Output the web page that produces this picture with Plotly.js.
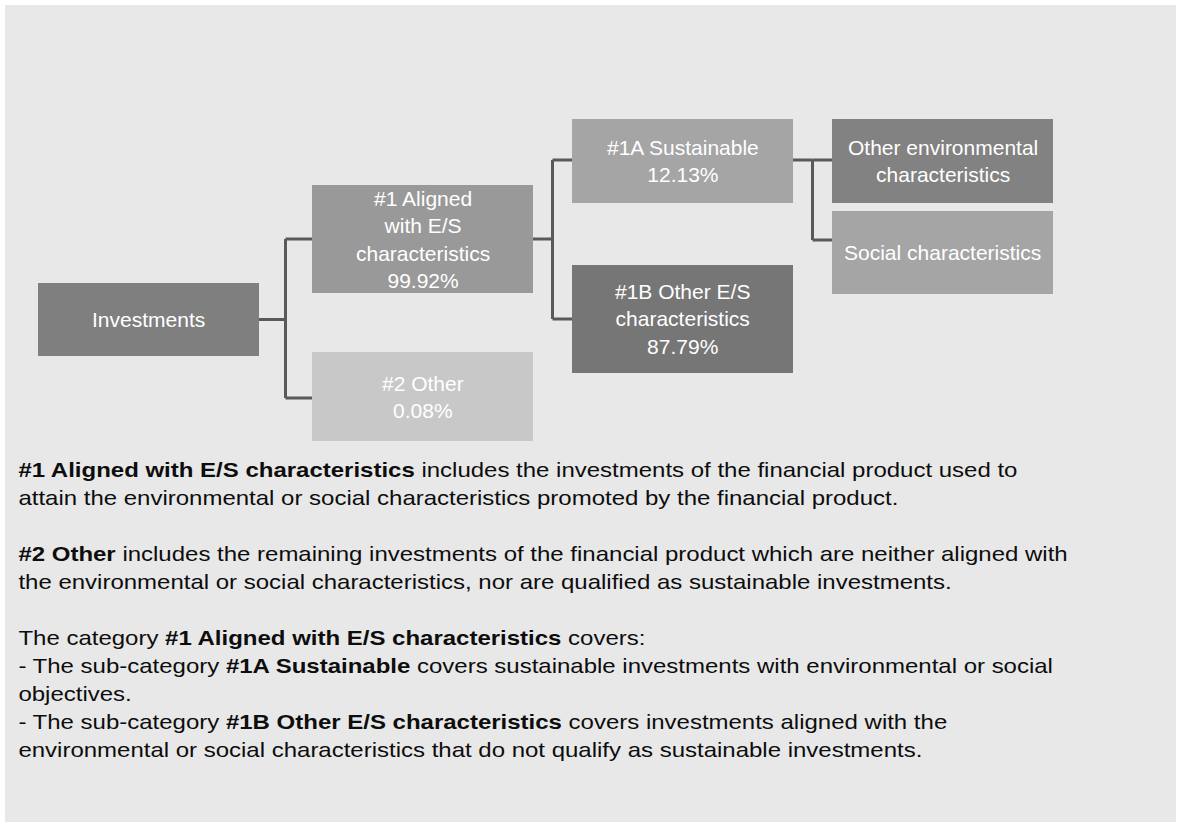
<!DOCTYPE html>
<html>
<head>
<meta charset="utf-8">
<script src="https://cdn.plot.ly/plotly-3.0.1.min.js"></script>
<style>
  html, body { margin: 0; padding: 0; background: #ffffff; }
  #chart { width: 1181px; height: 827px; }
</style>
</head>
<body>
<div id="chart"></div>
<script>
// ---- Data ----
const nodeLabels = [
  'Investments',
  '#1 Aligned<br>with E/S<br>characteristics',
  '#2 Other',
  '#1A Sustainable',
  '#1B Other E/S<br>characteristics',
  'Other environmental<br>characteristics',
  'Social characteristics'
];
const nodeShares = [null, 99.92, 0.08, 12.13, 87.79, null, null];
const nodeParents = [-1, 0, 0, 1, 1, 3, 3];

const noteLines = [
  '<b>#1 Aligned with E/S characteristics</b> includes the investments of the financial product used to',
  'attain the environmental or social characteristics promoted by the financial product.',
  '<b>#2 Other</b> includes the remaining investments of the financial product which are neither aligned with',
  'the environmental or social characteristics, nor are qualified as sustainable investments.',
  'The category <b>#1 Aligned with E/S characteristics</b> covers:',
  '- The sub-category <b>#1A Sustainable</b> covers sustainable investments with environmental or social',
  'objectives.',
  '- The sub-category <b>#1B Other E/S characteristics</b> covers investments aligned with the',
  'environmental or social characteristics that do not qualify as sustainable investments.'
];

// ---- Layout geometry (diagram placement, in page units) ----
const boxX0 = [38, 312, 312, 572, 572, 832, 832];
const boxX1 = [259, 533, 533, 793, 793, 1053, 1053];
const boxY0 = [283, 185, 352, 119, 265, 119, 211];
const boxY1 = [356, 293, 441, 203, 373, 203, 294];
const linkY = [319.5, 239, 398, 160, 319, 160, 240];
const noteLineY = [470, 498, 554, 582, 638, 666, 694, 722, 750];
const noteLeft = 16;

// ---- Styles ----
const boxColors = ['#7f7f7f', '#999999', '#c8c8c8', '#a5a5a5', '#767676', '#828282', '#a5a5a5'];
const lineColor = '#595959';
const bgColor = '#e8e8e8';
const fontFam = 'Liberation Sans, Arial, Helvetica, sans-serif';
const noteFontSize = 20;
const noteStretchX = 1.2;

// ---- Build connectors ----
const traces = [];
const parentsUsed = [...new Set(nodeParents.filter(p => p >= 0))];
parentsUsed.forEach(p => {
  const kids = nodeParents.map((q, i) => q === p ? i : -1).filter(i => i >= 0);
  const bus = (boxX1[p] + boxX0[kids[0]]) / 2;
  const outY = linkY[p];
  const ys = kids.map(k => linkY[k]).concat([outY]);
  const xs = [boxX1[p], bus, null, bus, bus, null];
  const yv = [outY, outY, null, Math.min(...ys), Math.max(...ys), null];
  kids.forEach(k => {
    xs.push(bus, boxX0[k], null);
    yv.push(linkY[k], linkY[k], null);
  });
  traces.push({
    type: 'scatter', mode: 'lines', x: xs, y: yv,
    line: { color: lineColor, width: 3 },
    hoverinfo: 'skip', showlegend: false, connectgaps: false
  });
});

// ---- Shapes: background + boxes ----
const shapes = [{
  type: 'rect', xref: 'paper', yref: 'paper', x0: 5 / 1181, x1: 1176 / 1181, y0: 5 / 827, y1: 822 / 827,
  fillcolor: bgColor, line: { width: 0 }, layer: 'below'
}];
nodeLabels.forEach((lab, i) => {
  shapes.push({
    type: 'rect', xref: 'x', yref: 'y',
    x0: boxX0[i], x1: boxX1[i], y0: boxY0[i], y1: boxY1[i],
    fillcolor: boxColors[i], line: { width: 0 }, layer: 'above'
  });
});

// ---- Annotations: box labels + notes ----
const annotations = nodeLabels.map((lab, i) => ({
  xref: 'x', yref: 'y',
  x: (boxX0[i] + boxX1[i]) / 2, y: (boxY0[i] + boxY1[i]) / 2,
  text: lab + (nodeShares[i] !== null ? '<br>' + nodeShares[i].toFixed(2) + '%' : ''),
  showarrow: false, xanchor: 'center', yanchor: 'middle', align: 'center',
  font: { family: fontFam, size: 21, color: '#ffffff' }
}));
noteLines.forEach((t, i) => {
  annotations.push({
    xref: 'x', yref: 'y', x: noteLeft, y: noteLineY[i],
    text: t, showarrow: false, xanchor: 'left', yanchor: 'middle', align: 'left',
    font: { family: fontFam, size: noteFontSize, color: '#0d0d0d' }
  });
});

const layout = {
  width: 1181, height: 827,
  margin: { l: 0, r: 0, t: 0, b: 0 },
  paper_bgcolor: '#ffffff', plot_bgcolor: 'rgba(0,0,0,0)',
  xaxis: { range: [0, 1181], visible: false, fixedrange: true },
  yaxis: { range: [827, 0], visible: false, fixedrange: true },
  shapes: shapes,
  annotations: annotations,
  showlegend: false
};

Plotly.newPlot('chart', traces, layout, { displayModeBar: false, staticPlot: true }).then(gd => {
  // widen the note text horizontally, anchored at its left edge
  const anns = gd.querySelectorAll('g.annotation');
  anns.forEach(a => {
    const idx = +a.getAttribute('data-index');
    if (idx >= nodeLabels.length) {
      const g = a.querySelector('g.annotation-text-g');
      if (g) g.setAttribute('transform',
        'translate(' + noteLeft + ',0) scale(' + noteStretchX + ',1) translate(' + (-noteLeft) + ',0)');
    }
  });
});
</script>
</body>
</html>
